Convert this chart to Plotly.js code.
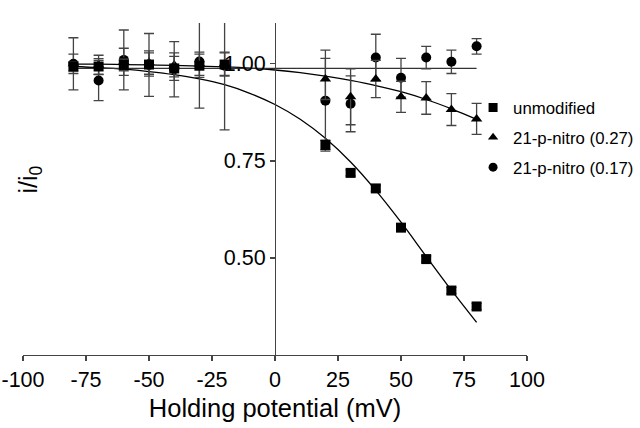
<!DOCTYPE html>
<html>
<head>
<meta charset="utf-8">
<script src="https://cdn.plot.ly/plotly-3.0.1.min.js"></script>
<style>html,body{margin:0;padding:0;background:#fff;}#chart{width:640px;height:428px;}</style>
</head>
<body>
<div id="chart"></div>
<script>
// Holding potentials (mV)
const voltages = [-80, -70, -60, -50, -40, -30, -20, 20, 30, 40, 50, 60, 70, 80];

// unmodified (squares)
const unmodY   = [0.993, 0.993, 0.997, 0.998, 0.988, 0.995, 0.998, 0.791, 0.719, 0.679, 0.578, 0.497, 0.416, 0.375];
const unmodErr = [0.012, 0.02, 0.015, 0.03, 0.031, 0.03, 0.03, 0.012, 0.008, 0.008, 0.008, 0.008, 0.008, 0.008];

// 21-p-nitro (0.27) (triangles)
const tri27Y   = [1.000, 0.997, 1.005, 1.003, 0.997, 1.000, 1.000, 0.961, 0.915, 0.961, 0.915, 0.912, 0.882, 0.858];
const tri27Err = [0.025, 0.025, 0.035, 0.03, 0.031, 0.03, 0.03, 0.053, 0.072, 0.048, 0.04, 0.042, 0.041, 0.04];

// 21-p-nitro (0.17) (circles)
const cir17Y   = [1.000, 0.957, 1.010, 0.997, 0.986, 1.006, 0.995, 0.905, 0.897, 1.016, 0.964, 1.016, 1.005, 1.045];
const cir17Err = [0.067, 0.052, 0.077, 0.081, 0.071, 0.12, 0.165, 0.13, 0.072, 0.06, 0.05, 0.029, 0.03, 0.02];

// fitted curves
const fitV      = [-80, -70, -60, -50, -40, -30, -20, -10, 0, 10, 20, 30, 40, 50, 60, 70, 80];
const fitUnmod  = [0.993, 0.990, 0.986, 0.980, 0.972, 0.961, 0.946, 0.924, 0.895, 0.857, 0.808, 0.747, 0.674, 0.592, 0.504, 0.417, 0.334];
const fitTri27  = [0.999, 0.999, 0.998, 0.997, 0.996, 0.994, 0.992, 0.989, 0.984, 0.977, 0.968, 0.957, 0.944, 0.928, 0.908, 0.884, 0.857];
const fitCir17  = [0.988, 0.988, 0.988, 0.988, 0.988, 0.988, 0.988, 0.988, 0.988, 0.988, 0.988, 0.988, 0.988, 0.988, 0.988, 0.988, 0.988];

const xTicks = [-100, -75, -50, -25, 0, 25, 50, 75, 100];
const yTicks = [0.50, 0.75, 1.00];
const yTickText = ['0.50', '0.75', '1.00'];

const names = ['unmodified', '21-p-nitro (0.27)', '21-p-nitro (0.17)'];

const errStyle = (arr) => ({type: 'data', array: arr, visible: true, color: '#444', thickness: 1.3, width: 5});
const lineStyle = {color: '#000', width: 1.3, shape: 'spline'};

const traces = [
  {x: fitV, y: fitUnmod, mode: 'lines', line: lineStyle, showlegend: false, hoverinfo: 'skip'},
  {x: fitV, y: fitTri27, mode: 'lines', line: lineStyle, showlegend: false, hoverinfo: 'skip'},
  {x: fitV, y: fitCir17, mode: 'lines', line: {color: '#333', width: 1.3}, showlegend: false, hoverinfo: 'skip'},
  {x: voltages, y: cir17Y, name: names[2], mode: 'markers', showlegend: false,
   marker: {symbol: 'circle', size: 10, color: '#000'}, error_y: errStyle(cir17Err)},
  {x: voltages, y: tri27Y, name: names[1], mode: 'markers', showlegend: false,
   marker: {symbol: 'triangle-up', size: 10, color: '#000'}, error_y: errStyle(tri27Err)},
  {x: voltages, y: unmodY, name: names[0], mode: 'markers', showlegend: false,
   marker: {symbol: 'square', size: 10, color: '#000'}, error_y: errStyle(unmodErr)},
  // legend entries
  {x: [null], y: [null], name: names[0], legendgroup: 'a', mode: 'markers', marker: {symbol: 'square', size: 9, color: '#000'}},
  {x: [null], y: [null], name: names[1], legendgroup: 'b', mode: 'markers', marker: {symbol: 'triangle-up', size: 9, color: '#000'}},
  {x: [null], y: [null], name: names[2], legendgroup: 'c', mode: 'markers', marker: {symbol: 'circle', size: 9, color: '#000'}}
];

const layout = {
  width: 640, height: 428,
  margin: {l: 23, r: 113, t: 23, b: 73, autoexpand: false},
  paper_bgcolor: '#fff', plot_bgcolor: '#fff',
  font: {family: 'Liberation Sans, Arial, sans-serif', color: '#000'},
  showlegend: true,
  legend: {x: 0.893, y: 0.798, xanchor: 'left', yanchor: 'top',
           font: {size: 16.8}, itemwidth: 30, tracegroupgap: 5, bgcolor: 'rgba(0,0,0,0)'},
  xaxis: {
    range: [-100, 100], tickvals: xTicks, ticktext: xTicks.map(String),
    showgrid: false, zeroline: false, showline: true, linecolor: '#444', linewidth: 1.3,
    ticks: 'outside', ticklen: 5, tickcolor: '#444', tickwidth: 1.3,
    tickfont: {size: 21.5}, automargin: false,
    title: {text: 'Holding potential (mV)', font: {size: 25.5}, standoff: 8}
  },
  yaxis: {
    range: [0.25, 1.105], tickvals: yTicks, ticktext: yTickText,
    anchor: 'free', position: 0.5,
    showgrid: false, zeroline: false, showline: true, linecolor: '#444', linewidth: 1.3,
    ticks: 'outside', ticklen: 5, tickcolor: '#444', tickwidth: 1.3,
    tickfont: {size: 21.5}, automargin: false
  },
  annotations: [{
    text: 'i/i<sub>0</sub>', xref: 'paper', yref: 'paper', x: 0.013, y: 0.527,
    xanchor: 'center', yanchor: 'middle',
    showarrow: false, textangle: -90, font: {size: 25}
  }]
};

Plotly.newPlot('chart', traces, layout, {staticPlot: true});
</script>
</body>
</html>
